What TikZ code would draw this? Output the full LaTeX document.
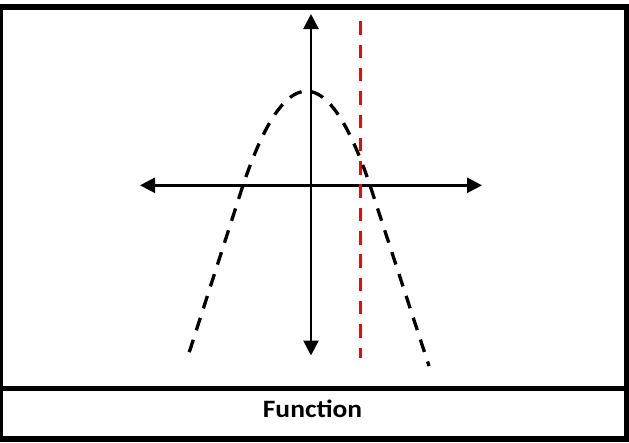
\documentclass[tikz,border=0pt]{standalone}
\usepackage{fontspec}
\setmainfont{Carlito}
\usetikzlibrary{arrows.meta}
\tikzset{
  frameline/.style={line width=5.5pt, draw=black},
  axisline/.style={line width=2.7pt, draw=black, {Triangle[length=15pt,width=15pt]}-{Triangle[length=15pt,width=15pt]}},
  curveline/.style={line width=3.3pt, draw=black, dash pattern=on 13pt off 10pt, dash phase=18pt},
  asymline/.style={line width=3.6pt, draw=red, dash pattern=on 13.5pt off 9.8pt},
  captiontext/.style={font=\bfseries\fontsize{25}{30}\selectfont, inner sep=0pt, anchor=base}
}
\begin{document}
\begin{tikzpicture}[x=1pt,y=-1pt]
\useasboundingbox (0,0) rectangle (629,442);
\fill[white] (0,0) rectangle (629,442);
% frame
\draw[frameline] (0.5,7) rectangle (626.5,439);
\coordinate (sepL) at (0.5,388.7);
\coordinate (sepR) at (626.5,388.7);
\draw[frameline] (sepL) -- (sepR);
% axes
\coordinate (xL) at (140,185.3);
\coordinate (xR) at (482,185.3);
\coordinate (yT) at (311,14);
\coordinate (yB) at (311,355.5);
\draw[axisline] (xL) -- (xR);
\draw[axisline] (yB) -- (yT);
% red dashed line
\coordinate (rT) at (360.5,21.3);
\coordinate (rB) at (360.5,357.5);
\draw[asymline] (rT) -- (rB);
% dashed curve, drawn from the vertex outwards
\coordinate (cM) at (306.5,91.15);
\coordinate (cA) at (189,353);
\coordinate (cB) at (243,185.3);
\coordinate (cC) at (370,185.3);
\coordinate (cD) at (429,366);
\draw[curveline] (cM) .. controls (285.33,91.15) and (264.17,122.53) .. (cB) -- (cA);
\draw[curveline] (cM) .. controls (327.67,91.15) and (348.83,122.53) .. (cC) -- (cD);
% caption
\node[captiontext] (cap) at (312.5,417) {\scalebox{1.1}[1]{Function}};
\end{tikzpicture}
\end{document}
